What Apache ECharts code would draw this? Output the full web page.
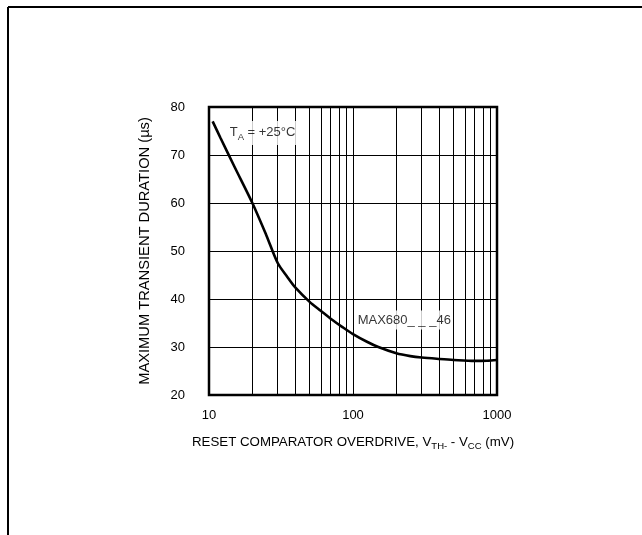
<!DOCTYPE html>
<html><head><meta charset="utf-8">
<script src="https://cdn.jsdelivr.net/npm/echarts@6/dist/echarts.min.js"></script>
<style>html,body{margin:0;padding:0;background:#fff}#c{width:642px;height:535px}</style>
</head><body><div id="c"></div>
<script>
const overdrive = [10.6, 12, 15, 20, 25, 30, 35, 40, 50, 60, 70, 85, 100, 125, 150, 200, 250, 300, 400, 500, 700, 850, 1000];
const duration  = [77, 73.6, 67.6, 60, 53.3, 47.5, 44.6, 42.3, 39.4, 37.5, 35.9, 34.1, 32.7, 31.1, 30.0, 28.7, 28.1, 27.8, 27.5, 27.3, 27.1, 27.15, 27.3];
const minorGridX = [20, 30, 40, 50, 60, 70, 80, 90, 200, 300, 400, 500, 600, 700, 800, 900];
const annoX = [13.7, 106];
const annoY = [74.6, 35.6];
const annoText = ['T{sub|A} = +25°C', 'MAX680_ _ _46'];
const xTitle = 'RESET COMPARATOR OVERDRIVE, V{sub|TH-} - V{sub|CC} (mV)';
const yTitle = 'MAXIMUM TRANSIENT DURATION (µs)';

const FONT = "'Liberation Sans', Arial, sans-serif";
const subStyle = { fontSize: 9.5, fontFamily: FONT, color: '#000', padding: [8, 0, 0, 0] };

const chart = echarts.init(document.getElementById('c'), null, { renderer: 'canvas' });
chart.setOption({
  backgroundColor: '#fff',
  animation: false,
  grid: { left: 209, top: 107, right: 145, bottom: 140, show: true, borderColor: '#000', borderWidth: 2.5, backgroundColor: 'transparent' },
  xAxis: {
    type: 'log', logBase: 10, min: 10, max: 1000,
    axisLine: { show: false }, axisTick: { show: false },
    splitLine: { show: true, lineStyle: { color: '#000', width: 1 } },
    axisLabel: { color: '#000', fontSize: 13, fontFamily: FONT, margin: 14, formatter: v => String(Math.round(v)) },
    name: xTitle, nameLocation: 'middle', nameGap: 38,
    nameTextStyle: { color: '#000', fontSize: 13.3, fontFamily: FONT, rich: { sub: subStyle } }
  },
  yAxis: {
    type: 'value', min: 20, max: 80, interval: 10,
    axisLine: { show: false }, axisTick: { show: false },
    splitLine: { show: true, lineStyle: { color: '#000', width: 1 } },
    axisLabel: { color: '#000', fontSize: 13, fontFamily: FONT, margin: 24 },
    name: yTitle, nameLocation: 'middle', nameGap: 57,
    nameTextStyle: { color: '#000', fontSize: 14.7, fontFamily: FONT }
  },
  graphic: [
    { type: 'line', shape: { x1: 8, y1: 7, x2: 642, y2: 7 }, style: { stroke: '#000', lineWidth: 2 } },
    { type: 'line', shape: { x1: 8, y1: 7, x2: 8, y2: 535 }, style: { stroke: '#000', lineWidth: 2 } }
  ],
  series: [
    {
      type: 'line', data: [], z: 1, silent: true,
      markLine: {
        silent: true, symbol: 'none', label: { show: false },
        lineStyle: { color: '#000', width: 1, type: 'solid' },
        data: minorGridX.map(v => ({ xAxis: v }))
      }
    },
    {
      type: 'line', z: 3, smooth: 0.3, showSymbol: false, symbol: 'none',
      lineStyle: { color: '#000', width: 2.6 },
      data: overdrive.map((x, i) => [x, duration[i]])
    },
    {
      type: 'scatter', z: 5, symbolSize: 0, silent: true,
      data: annoX.map((x, i) => [x, annoY[i]]),
      label: {
        show: true, position: 'right', distance: 0,
        formatter: p => annoText[p.dataIndex],
        color: '#000', fontSize: 13, fontFamily: FONT,
        backgroundColor: '#fff', padding: [3, 1, 3, 1],
        rich: { sub: subStyle }
      }
    }
  ]
});
</script></body></html>
